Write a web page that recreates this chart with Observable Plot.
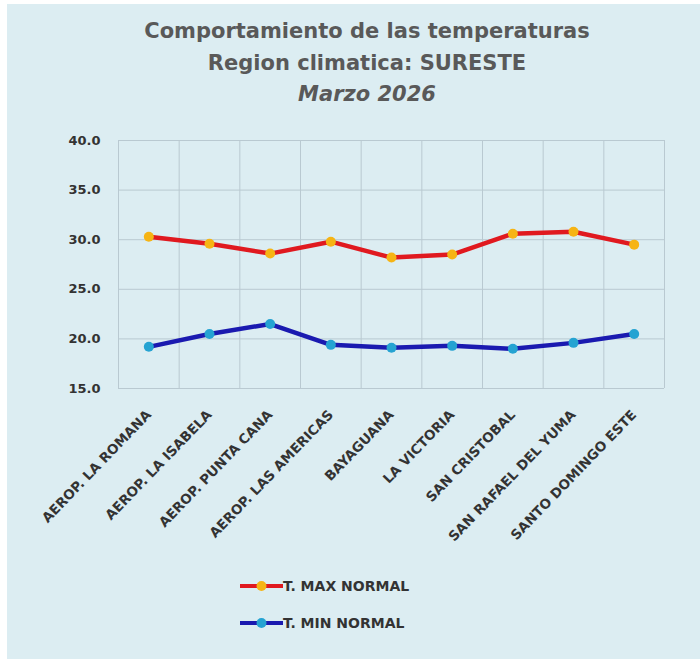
<!DOCTYPE html>
<html><head><meta charset="utf-8">
<script src="https://cdn.jsdelivr.net/npm/d3@7"></script>
<script src="https://cdn.jsdelivr.net/npm/@observablehq/plot@0.6"></script>
<style>
html,body{margin:0;padding:0;background:#fff;width:700px;height:659px;overflow:hidden;}
#card{position:absolute;left:7px;top:4px;width:693px;height:655px;background:#dcedf2;}
#title{position:absolute;left:0;top:16px;width:734px;text-align:center;font-family:"DejaVu Sans",sans-serif;font-weight:bold;font-size:21px;line-height:31.5px;color:#595959;}
#title .it{font-style:italic;}
#chart{position:absolute;left:0;top:120px;}
.leg{position:absolute;left:240px;height:20px;display:flex;align-items:center;font-family:"DejaVu Sans",sans-serif;font-weight:bold;font-size:14px;color:#333;}
.leg svg{display:block;margin-right:0px;}
</style></head>
<body>
<div id="card"></div>
<div id="title"><div>Comportamiento de las temperaturas</div><div>Region climatica: SURESTE</div><div class="it">Marzo 2026</div></div>
<div id="chart"></div>
<div id="legend"></div>
<script>
const stations = ["AEROP. LA ROMANA","AEROP. LA ISABELA","AEROP. PUNTA CANA","AEROP. LAS AMERICAS","BAYAGUANA","LA VICTORIA","SAN CRISTOBAL","SAN RAFAEL DEL YUMA","SANTO DOMINGO ESTE"];
const tMax = [30.3, 29.6, 28.6, 29.8, 28.2, 28.5, 30.6, 30.8, 29.5];
const tMin = [19.2, 20.5, 21.5, 19.4, 19.1, 19.3, 19.0, 19.6, 20.5];
const yTicks = [15, 20, 25, 30, 35, 40];
const seriesNames = ["T. MAX NORMAL", "T. MIN NORMAL"];
const lineColors = ["#e0191f", "#1a1ab0"];
const dotColors = ["#f6b414", "#25a3d2"];

const idx = stations.map((_, i) => i);
const series = [tMax, tMin].map(vals => idx.map(i => ({i, v: vals[i]})));
const grid = "#b9c9d1";

const chart = Plot.plot({
  width: 700, height: 430,
  marginTop: 20, marginBottom: 162, marginLeft: 118, marginRight: 36,
  style: {background: "transparent", fontFamily: "DejaVu Sans", color: "#333"},
  x: {type: "linear", domain: [-0.5, stations.length - 0.5]},
  y: {domain: [15, 40]},
  marks: [
    Plot.ruleY(yTicks, {stroke: grid, strokeWidth: 1}),
    Plot.ruleX(d3.range(-0.5, stations.length), {stroke: grid, strokeWidth: 1}),
    Plot.axisY({ticks: yTicks, tickFormat: d => d.toFixed(1), tickSize: 0, tickPadding: 18, fontSize: 13, fontWeight: "bold", fill: "#333", label: null}),
    Plot.axisX({ticks: idx, tickFormat: i => stations[i], tickSize: 0, tickPadding: 24, tickRotate: -46, fontSize: 13.5, fontWeight: "bold", fill: "#333", dx: 0, label: null}),
    ...series.flatMap((s, k) => [
      Plot.line(s, {x: "i", y: "v", stroke: lineColors[k], strokeWidth: 4.5}),
      Plot.dot(s, {x: "i", y: "v", r: 5, fill: dotColors[k]})
    ])
  ]
});
document.getElementById("chart").appendChild(chart);

const legend = document.getElementById("legend");
seriesNames.forEach((name, k) => {
  const d = document.createElement("div");
  d.className = "leg";
  d.style.top = (575.5 + k * 37.5) + "px";
  d.innerHTML = `<svg width="43" height="20"><line x1="0" x2="43" y1="10" y2="10" stroke="${lineColors[k]}" stroke-width="4"/><circle cx="21.5" cy="10" r="5" fill="${dotColors[k]}"/></svg><span>${name}</span>`;
  legend.appendChild(d);
});
</script>
</body></html>
